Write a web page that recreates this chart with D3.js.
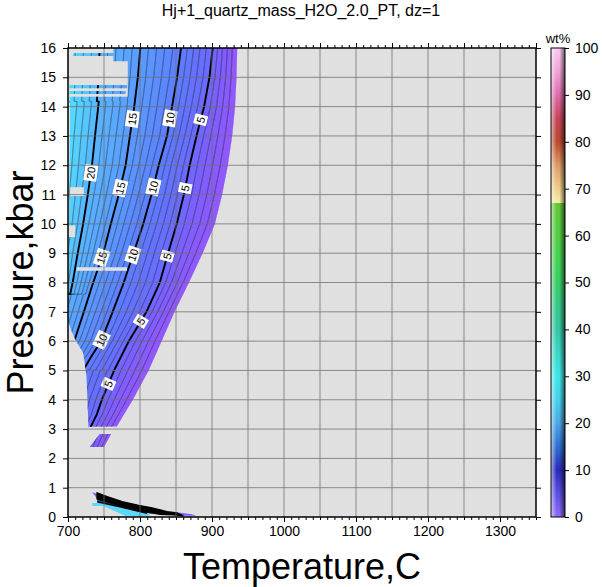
<!DOCTYPE html>
<html><head><meta charset="utf-8">
<script src="https://cdn.jsdelivr.net/npm/d3@7"></script>
<style>body{margin:0;background:#fff}text{font-family:"Liberation Sans",Arial,Helvetica,sans-serif}</style>
</head><body><svg id="c" width="602" height="587"></svg>
<script>
// ---------- data ----------
const title = "Hj+1_quartz_mass_H2O_2.0_PT, dz=1";
const xLabel = "Temperature,C", yLabel = "Pressure,kbar", cbLabel = "wt%";
const xTicks = [700,800,900,1000,1100,1200,1300];
const yTicks = [0,1,2,3,4,5,6,7,8,9,10,11,12,13,14,15,16];
const cbTicks = [0,10,20,30,40,50,60,70,80,90,100];

// bold isolines (wt%): pressure (kbar) and temperature (C)
const iso0P  = [16,15,14,13,12,11,10,9,8,7,6,5,4,3.1,2.39];
const iso0T  = [935,934,932,928,922,914,904,887,868,848,830,812,790,768,753];
const iso5P  = [16,15,14,13,12,11,10,9,8,7,6,5,4,3.5,3.1,2.39];
const iso5T  = [901,896.5,889,878.5,869,861,851,839,827.5,809,784.5,764,747,740,732,722];
const iso10P = [16,15,14,13,12,11,10,9,8,7,6,5.5,5.0];
const iso10T = [857,851.5,844.5,837.5,826,816,804.5,791,777.5,762,746,733,721];
const iso15P = [16,15,14,13,12,11,10,9,8,7,6.1,5.5];
const iso15T = [800.5,797,792,786,780,770.5,759.5,749,735,722,710,698];
const iso20P = [14.17,14,13,12,11,10,9,8,7.6];
const iso20T = [742.7,742,737.5,733.3,727.5,721,713.5,706.5,703];

// field outline (left / top boundary, top to bottom)
const fieldLeftP = [16,15.55,15.55,14.17,14.17,6.7,6.4,6.04,5.6,5.3,4.8,4.0,3.08];
const fieldLeftT = [763,763,783,783,703,700,704,710.4,721,723,725.7,727,728.4];
// small detached piece
const stubP = [2.83,2.83,2.39,2.39];
const stubT = [744,760,750,730];
// horizontal data stripes
const stripeP0 = [15.73,14.63,14.43,14.14];
const stripeP1 = [15.83,14.74,14.53,14.34];
const stripeT0 = [707,702,702,702];
const stripeT1 = [766,782,780,783];
// no-data gaps
const gapP0 = [8.40,10.95,9.55];
const gapP1 = [8.52,11.25,9.95];
const gapT0 = [712,703,700];
const gapT1 = [782,722,710];

// contour labels
const labelLevel = [15,10,5,20,15,10,5,15,10,5,5,10,5];
const labelP = [13.58,13.6,13.55,11.74,11.22,11.26,11.22,8.85,8.94,8.9,6.68,6.04,4.54];

// low-pressure sliver
const lowTopT = [733.6,752,772.8,796,814.5,833,856,872,878];
const lowTopP = [0.843,0.693,0.522,0.409,0.331,0.181,0.147,0.09,0.04];
const bandTopT = [740.5,754.4,775.2,798.2,816.8,837.6,851.5];
const bandTopP = [0.82,0.69,0.52,0.39,0.31,0.18,0.14];
const bandBotT = [740.5,763.5,786.7,809.9,828.3,846.8,860];
const bandBotP = [0.62,0.45,0.285,0.17,0.095,0.075,0.04];
const line2T = [740.5,775,809.9];
const line2P = [0.522,0.33,0.126];
const cyanT = [733.6,745,809.9,814.5,779.8,749.3,733.6];
const cyanP = [0.478,0.478,0.126,0.034,0.034,0.375,0.375];

// colours
const fieldLevels = [0,3,5,8,10,15,20,22,24,27,30];
const fieldColors = ["#9358ff","#7e5eff","#6c69ff","#6274ff","#5c7fff","#5a9bff","#58b6ff","#56caff","#55dcff","#58eeff","#60ffff"];
const cbVals = [0,5,10,15,20,25,30,35,40,45,50,55,60,66.9,67,70,75,80,85,90,95,100];
const cbCols = ["#8f6cf5","#5a4ee0","#2a2ab8","#2f6fd0","#4aa6e6","#45d0ea","#3ee6e6","#3ad6c6","#34c4a4","#34c886","#36cf62","#44d052","#52cc44","#62c636","#f6eda0","#efcf8c","#dc9a64","#b9482c","#c4445a","#dc6cae","#eea2d6","#fbcaf0"];

// ---------- layout ----------
const W=602,H=587;
const M={left:68,right:536,top:48,bottom:517};
const x=d3.scaleLinear().domain([700,1350]).range([M.left,M.right]);
const y=d3.scaleLinear().domain([0,16]).range([M.bottom,M.top]);
const fieldColor=d3.scaleLinear().domain(fieldLevels).range(fieldColors).clamp(true);

const svg=d3.select("#c");
svg.append("rect").attr("width",W).attr("height",H).attr("fill","#fff");
const defs=svg.append("defs");
const line=d3.line().x(d=>x(d[0])).y(d=>y(d[1]));
const zip=(T,P)=>T.map((t,i)=>[t,P[i]]);

// isoline model
const isos=[[0,iso0P,iso0T],[5,iso5P,iso5T],[10,iso10P,iso10T],[15,iso15P,iso15T],[20,iso20P,iso20T]]
  .map(([L,P,T])=>({L,lo:d3.min(P),hi:d3.max(P),s:d3.scaleLinear().domain(P).range(T)}));
function tAt(v,p){
  const a=isos.filter(d=>p>=d.lo-1e-9&&p<=d.hi+1e-9).map(d=>({L:d.L,T:d.s(p)}));
  if(a.length<2) return null;
  let i=0;
  while(i<a.length-2 && v>a[i+1].L) i++;
  const A=a[i],B=a[i+1];
  return A.T+(v-A.L)/(B.L-A.L)*(B.T-A.T);
}
const pSamples=d3.range(2.39,16.0001,0.02).map(p=>Math.min(p,16));
if(pSamples[pSamples.length-1]<16) pSamples.push(16);

// plot background
svg.append("rect").attr("x",M.left).attr("y",M.top).attr("width",M.right-M.left).attr("height",M.bottom-M.top).attr("fill","#e0e0e0");

// clip
const cp=defs.append("clipPath").attr("id","field");
const outline=zip(fieldLeftT,fieldLeftP);
const rightEdge=pSamples.filter(p=>p>=3.08).map(p=>[isos[0].s(p),p]);
cp.append("path").attr("d",line(outline.concat(rightEdge))+"Z");
cp.append("path").attr("d",line(zip(stubT,stubP))+"Z");
stripeP0.forEach((p0,i)=>{
  cp.append("rect").attr("x",x(stripeT0[i])).attr("y",y(stripeP1[i])).attr("width",x(stripeT1[i])-x(stripeT0[i])).attr("height",y(p0)-y(stripeP1[i]));
});
const plotClip=defs.append("clipPath").attr("id","plot");
plotClip.append("rect").attr("x",M.left).attr("y",M.top).attr("width",M.right-M.left).attr("height",M.bottom-M.top);

const gField=svg.append("g").attr("clip-path","url(#plot)").append("g").attr("clip-path","url(#field)");
// bands
for(let v=-1;v<=30;v++){
  const right=pSamples.map(p=>[v<0?1000:tAt(v,p),p]);
  const left=pSamples.map(p=>[v>=30?600:tAt(v+1,p),p]).reverse();
  const c=fieldColor(Math.max(v,0)+0.5);
  gField.append("path").attr("d",line(right.concat(left))+"Z").attr("fill",c).attr("stroke",c).attr("stroke-width",0.3);
}
// isolines
for(let v=1;v<=30;v++){
  const pts=pSamples.map(p=>[tAt(v,p),p]);
  const bold=v%5===0;
  gField.append("path").attr("d",line(pts)).attr("fill","none")
    .attr("stroke","#000").attr("stroke-opacity",bold?1:0.7).attr("stroke-width",bold?1.9:0.6);
}
// gaps
const gGap=svg.append("g");
gapP0.forEach((p0,i)=>{
  gGap.append("rect").attr("x",x(gapT0[i])).attr("y",y(gapP1[i])).attr("width",x(gapT1[i])-x(gapT0[i])).attr("height",y(p0)-y(gapP1[i])).attr("fill","#e0e0e0");
});
// labels
const gLab=svg.append("g");
labelLevel.forEach((L,i)=>{
  const p=labelP[i], t=tAt(L,p);
  const dx=x(tAt(L,p+0.1))-x(tAt(L,p-0.1)), dy=y(p+0.1)-y(p-0.1);
  let ang=Math.atan2(dy,dx)*180/Math.PI;
  if(ang<-90) ang+=180; if(ang>90) ang-=180;
  const g=gLab.append("g").attr("transform",`translate(${x(t)},${y(p)}) rotate(${ang})`);
  const r=g.append("rect").attr("fill","#fff");
  const tx=g.append("text").text(L).attr("font-size",11).attr("text-anchor","middle").attr("dy","0.36em");
  const w=tx.node().getComputedTextLength();
  r.attr("x",-w/2-2).attr("y",-6.5).attr("width",w+4).attr("height",13);
});

// low-pressure sliver
const gLow=svg.append("g").attr("clip-path","url(#plot)");
gLow.append("path").attr("d",line(zip(lowTopT,lowTopP).concat(zip(bandBotT,bandBotP).reverse()))+"Z").attr("fill","#7a5cff");
gLow.append("path").attr("d",line(zip(bandBotT,bandBotP).concat(zip(line2T,line2P).reverse()))+"Z").attr("fill","#245a86");
gLow.append("path").attr("d",line(zip(cyanT,cyanP))+"Z").attr("fill","#5cd8ff");
gLow.append("path").attr("d",line(zip(bandTopT,bandTopP).concat(zip(bandBotT,bandBotP).reverse()))+"Z").attr("fill","#000").attr("stroke","#000").attr("stroke-width",1.5);
gLow.append("path").attr("d",line(zip(line2T,line2P))).attr("fill","none").attr("stroke","#000").attr("stroke-width",1.6);

// grid
const gGrid=svg.append("g").attr("stroke","#6e6e6e").attr("stroke-width",0.9).attr("stroke-opacity",0.85);
d3.range(750,1350,50).forEach(t=>gGrid.append("line").attr("x1",x(t)).attr("x2",x(t)).attr("y1",M.top).attr("y2",M.bottom));
yTicks.slice(1,-1).forEach(p=>gGrid.append("line").attr("x1",M.left).attr("x2",M.right).attr("y1",y(p)).attr("y2",y(p)));

// axes (ticks outward on all four sides)
const axB=d3.axisBottom(x).tickValues(xTicks).tickSize(5).tickPadding(4).tickFormat(d3.format("d"));
const axBm=d3.axisBottom(x).tickValues(d3.range(700,1351,10)).tickSize(3).tickFormat("");
const axT=d3.axisTop(x).tickValues(d3.range(700,1351,10)).tickSize(3).tickFormat("");
const axTM=d3.axisTop(x).tickValues(d3.range(700,1351,50)).tickSize(5).tickFormat("");
const axL=d3.axisLeft(y).tickValues(yTicks).tickSize(5).tickPadding(7).tickFormat(d3.format("d"));
const axR=d3.axisRight(y).tickValues(yTicks).tickSize(5).tickFormat("");
function style(g){g.select(".domain").remove();g.selectAll("line").attr("stroke","#000").attr("stroke-width",1);g.selectAll("text").attr("font-size",14).attr("fill","#000").attr("font-family","Liberation Sans, Arial, sans-serif");}
svg.append("g").attr("transform",`translate(0,${M.bottom})`).call(axBm).call(style);
svg.append("g").attr("transform",`translate(0,${M.bottom})`).call(axB).call(style);
svg.append("g").attr("transform",`translate(0,${M.top})`).call(axT).call(style);
svg.append("g").attr("transform",`translate(0,${M.top})`).call(axTM).call(style);
svg.append("g").attr("transform",`translate(${M.left},0)`).call(axL).call(style);
svg.append("g").attr("transform",`translate(${M.right},0)`).call(axR).call(style);
svg.append("rect").attr("x",M.left).attr("y",M.top).attr("width",M.right-M.left).attr("height",M.bottom-M.top).attr("fill","none").attr("stroke","#000").attr("stroke-width",1.5);

// titles
svg.append("text").attr("x",301).attr("y",16).attr("text-anchor","middle").attr("font-size",16).text(title);
svg.append("text").attr("x",(M.left+M.right)/2).attr("y",579).attr("text-anchor","middle").attr("font-size",36).text(xLabel);
svg.append("text").attr("transform",`translate(33,${(M.top+M.bottom)/2}) rotate(-90)`).attr("text-anchor","middle").attr("font-size",36).text(yLabel);

// colorbar
const cb={x:551,w:14};
const cy=d3.scaleLinear().domain([0,100]).range([M.bottom,M.top]);
const grad=defs.append("linearGradient").attr("id","cbg").attr("x1",0).attr("y1",1).attr("x2",0).attr("y2",0);
cbVals.forEach((v,i)=>grad.append("stop").attr("offset",v/100).attr("stop-color",cbCols[i]));
const shade=defs.append("linearGradient").attr("id","cbs").attr("x1",0).attr("y1",0).attr("x2",1).attr("y2",0);
[[0,"#fff",0.6],[0.4,"#fff",0],[0.6,"#000",0],[1,"#000",0.6]].forEach(s=>shade.append("stop").attr("offset",s[0]).attr("stop-color",s[1]).attr("stop-opacity",s[2]));
svg.append("rect").attr("x",cb.x).attr("y",cy(100)).attr("width",cb.w).attr("height",cy(0)-cy(100)).attr("fill","url(#cbg)");
svg.append("rect").attr("x",cb.x).attr("y",cy(100)).attr("width",cb.w).attr("height",cy(0)-cy(100)).attr("fill","url(#cbs)").attr("stroke","#000").attr("stroke-width",1);
const axC=d3.axisRight(cy).tickValues(cbTicks).tickSize(4).tickPadding(6).tickFormat(d3.format("d"));
svg.append("g").attr("transform",`translate(${cb.x+cb.w},0)`).call(axC).call(style);
svg.append("text").attr("x",cb.x+cb.w/2).attr("y",43).attr("text-anchor","middle").attr("font-size",13).text(cbLabel);
</script></body></html>
